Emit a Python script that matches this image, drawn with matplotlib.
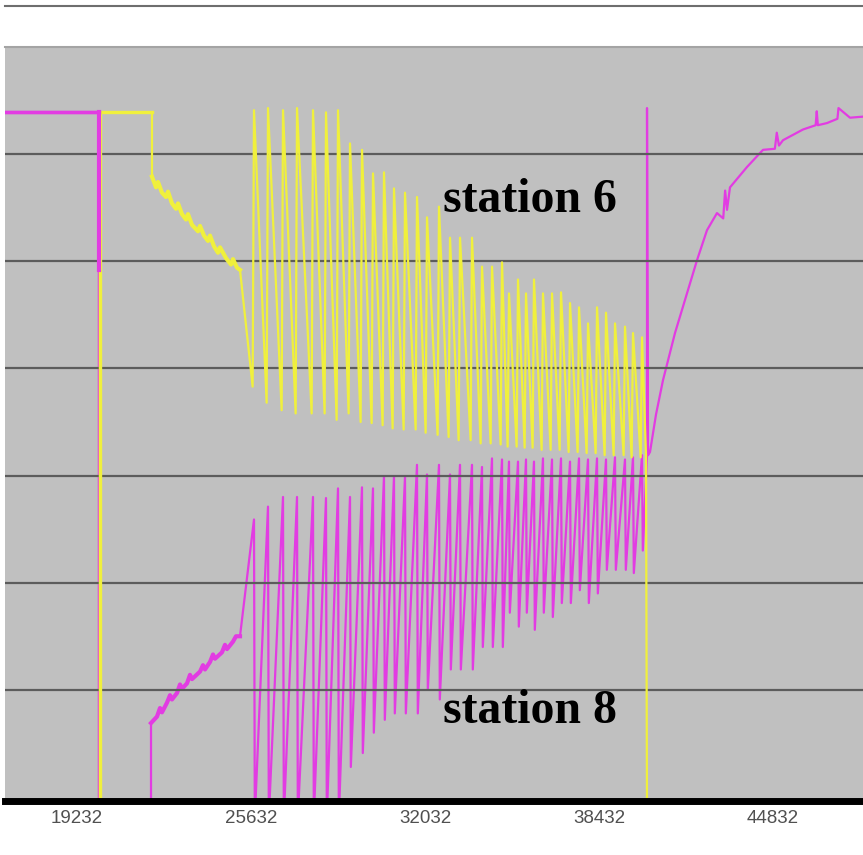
import matplotlib.pyplot as plt
from matplotlib.lines import Line2D

# x in sample numbers, y in grid units (grid lines at 1..6)
tick_values = [19232, 25632, 32032, 38432, 44832]

# shared cycle positions: station 6 jumps up / station 8 drops at each of these
cycle_x = [25742, 26257, 26809, 27324, 27912, 28390, 28832, 29273, 29714, 30119,
           30523, 30891, 31296, 31737, 32105, 32546, 32951, 33319, 33760, 34128,
           34496, 34864, 35121, 35452, 35746, 36040, 36371, 36703, 37034, 37365,
           37696, 38027, 38358, 38689, 39020, 39387, 39682, 40013]

st6_peak = [6.41, 6.43, 6.41, 6.43, 6.41, 6.39, 6.41, 6.10, 6.04, 5.82,
            5.83, 5.68, 5.64, 5.60, 5.41, 5.51, 5.22, 5.22, 5.22, 4.95,
            4.95, 4.99, 4.70, 4.83, 4.70, 4.83, 4.70, 4.70, 4.71, 4.61,
            4.57, 4.42, 4.57, 4.52, 4.42, 4.39, 4.33, 4.29]
st6_trough = [3.83, 3.68, 3.61, 3.58, 3.58, 3.58, 3.52, 3.58, 3.50, 3.49,
              3.47, 3.44, 3.43, 3.43, 3.40, 3.38, 3.36, 3.33, 3.33, 3.30,
              3.30, 3.29, 3.27, 3.27, 3.26, 3.26, 3.24, 3.24, 3.24, 3.22,
              3.22, 3.21, 3.21, 3.19, 3.19, 3.19, 3.17, 3.17]

st8_peak = [2.59, 2.71, 2.80, 2.80, 2.80, 2.79, 2.88, 2.80, 2.89, 2.88,
            2.99, 2.99, 2.99, 3.10, 3.01, 3.10, 3.01, 3.10, 3.10, 3.08,
            3.16, 3.15, 3.13, 3.13, 3.15, 3.13, 3.16, 3.15, 3.16, 3.13,
            3.16, 3.15, 3.16, 3.15, 3.17, 3.15, 3.17, 3.19]
st8_trough = [-0.2, -0.2, -0.2, -0.2, -0.2, -0.2, -0.2, 0.28, 0.41, 0.60,
              0.72, 0.78, 0.78, 0.78, 1.00, 0.91, 1.19, 1.19, 1.19, 1.40,
              1.40, 1.40, 1.72, 1.59, 1.72, 1.56, 1.72, 1.68, 1.81, 1.81,
              1.93, 1.81, 1.90, 2.12, 2.12, 2.12, 2.09, 2.30]

# station 6 before / after the cycling
st6_head_x = [16584, 20078, 20078, 21990, 21990]
st6_head_y = [-0.2, -0.2, 6.39, 6.39, 5.79]
st6_stair_x = [21990, 22138, 22211, 22358, 22505, 22579, 22726, 22873, 22947, 23094,
               23241, 23315, 23462, 23682, 23756, 23903, 24050, 24124, 24271, 24418,
               24492, 24712, 24896, 24970, 25117, 25227]
st6_stair_y = [5.79, 5.69, 5.74, 5.64, 5.60, 5.65, 5.54, 5.49, 5.54, 5.44,
               5.39, 5.44, 5.34, 5.28, 5.33, 5.24, 5.19, 5.24, 5.14, 5.08,
               5.13, 5.03, 4.97, 5.02, 4.94, 4.92]
st6_tail_x = [40160, 40197, 48141]
st6_tail_y = [3.19, -0.2, -0.2]

# station 8 before / after the cycling
st8_head_x = [16584, 20041, 20041, 21954]
st8_head_y = [6.39, 6.39, -0.2, -0.2]
st8_stair_x = [21954, 22174, 22285, 22358, 22542, 22653, 22726, 22910, 23020, 23094,
               23278, 23388, 23462, 23756, 23866, 23940, 24124, 24234, 24308, 24565,
               24675, 24749, 24970, 25080, 25227]
st8_stair_y = [0.69, 0.75, 0.83, 0.79, 0.88, 0.95, 0.91, 0.97, 1.05, 1.01,
               1.06, 1.14, 1.10, 1.17, 1.23, 1.19, 1.26, 1.33, 1.29, 1.35,
               1.42, 1.38, 1.45, 1.50, 1.50]
st8_tail_x = [40197, 40197, 40234, 40307, 40528, 40785, 41226, 41668, 42036, 42403,
              42771, 43000, 43070, 43140, 43249, 43875, 44463, 44900, 44970, 45050,
              45199, 45934, 46400, 46440, 46480, 46817, 47200, 47240, 47663, 48141]
st8_tail_y = [3.19, 6.43, 3.19, 3.22, 3.57, 3.89, 4.33, 4.70, 5.01, 5.29,
              5.45, 5.40, 5.66, 5.48, 5.69, 5.88, 6.04, 6.05, 6.20, 6.08,
              6.13, 6.23, 6.27, 6.40, 6.27, 6.29, 6.33, 6.43, 6.34, 6.35]

YELLOW = "#F0F03C"
MAGENTA = "#E23CE2"


def build_paths():
    # station 6: fast rise at each cycle, slow decay into the next one
    x6 = st6_head_x + st6_stair_x
    y6 = st6_head_y + st6_stair_y
    for cx, lo, hi in zip(cycle_x, st6_trough, st6_peak):
        x6 += [cx - 50, cx]
        y6 += [lo, hi]
    x6 += st6_tail_x
    y6 += st6_tail_y

    # station 8: slow rise to each peak, fast drop at the cycle
    x8 = st8_head_x + st8_stair_x
    y8 = st8_head_y + st8_stair_y
    for cx, hi, lo in zip(cycle_x, st8_peak, st8_trough):
        x8 += [cx, cx + 30]
        y8 += [hi, lo]
    x8 += st8_tail_x
    y8 += st8_tail_y
    return x6, y6, x8, y8


def plot_stations():
    fig = plt.figure(figsize=(8.63, 8.55), dpi=100)
    ax = fig.add_axes([5 / 863, 1 - 800.5 / 855, 858 / 863, 753.5 / 855])
    ax.set_facecolor("#C0C0C0")

    x6, y6, x8, y8 = build_paths()
    ax.plot(x8, y8, color=MAGENTA, linewidth=1.6, zorder=2)
    ax.plot(st8_stair_x, st8_stair_y, color=MAGENTA, linewidth=3, zorder=2)
    ax.plot(st8_head_x[:3], st8_head_y[:3], color=MAGENTA, linewidth=2.4, zorder=2)
    ax.plot(x6, y6, color=YELLOW, linewidth=1.6, zorder=3)
    ax.plot(st6_stair_x, st6_stair_y, color=YELLOW, linewidth=3, zorder=3)
    # the switch-over at the left: yellow over magenta below, magenta on top above
    ax.plot(st6_head_x[:4], st6_head_y[:4], color=YELLOW, linewidth=2.4, zorder=3)
    ax.plot([st8_head_x[1], st8_head_x[2]], [st8_head_y[1], 4.92],
            color=MAGENTA, linewidth=3, zorder=3.5)
    ax.plot(st8_head_x[:2], st8_head_y[:2], color=MAGENTA, linewidth=2.4, zorder=3.5)

    ax.set_xlim(16584, 48141)
    ax.set_ylim(-0.033, 7)
    ax.set_yticks([1, 2, 3, 4, 5, 6])
    ax.set_yticklabels([])
    ax.grid(True, axis="y", color="#5C5C5C", linewidth=1.6, zorder=4)
    ax.set_axisbelow(False)

    ax.set_xticks(tick_values)
    ax.set_xticklabels([str(v) for v in tick_values], family="Liberation Sans",
                       fontsize=13.5, color="#505050")
    ax.tick_params(axis="both", length=0)
    ax.tick_params(axis="x", pad=7)

    for side in ["left", "right"]:
        ax.spines[side].set_visible(False)
    ax.spines["top"].set_color("#A4A4A4")
    ax.spines["top"].set_linewidth(1.5)
    ax.spines["bottom"].set_color("black")
    ax.spines["bottom"].set_linewidth(5)
    ax.spines["bottom"].set_zorder(5)

    ax.text(32693, 5.46, "station 6", family="Liberation Serif", fontweight="bold",
            fontsize=34.4, va="baseline", ha="left", zorder=6)
    ax.text(32693, 0.69, "station 8", family="Liberation Serif", fontweight="bold",
            fontsize=34.4, va="baseline", ha="left", zorder=6)

    # thin rule across the top of the picture
    fig.add_artist(Line2D([5 / 863, 1], [1 - 6.5 / 855] * 2, color="#6E6E6E",
                          linewidth=1.5))

    fig.savefig("out.png", dpi=100)


plot_stations()
